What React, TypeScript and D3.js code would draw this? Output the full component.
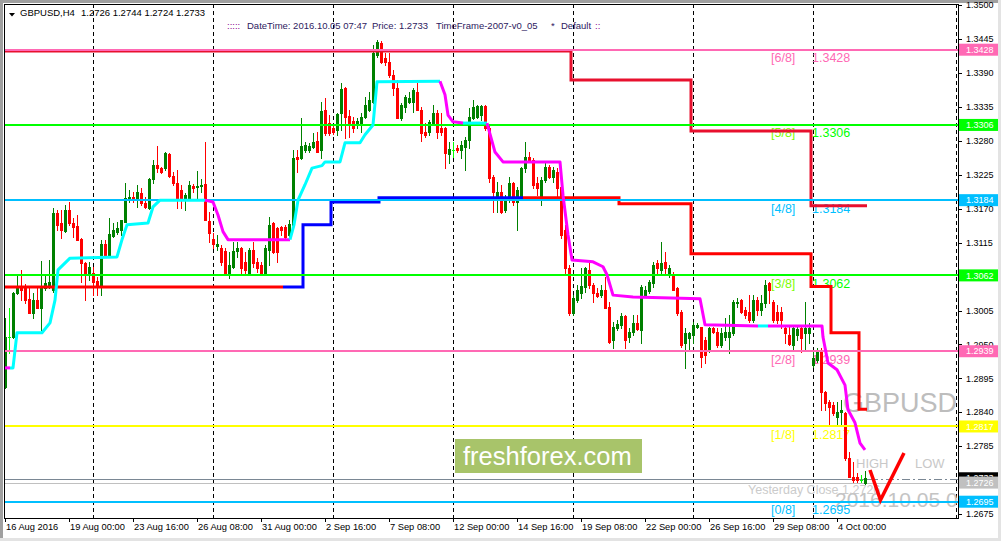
import React from 'react';
import * as d3 from 'd3';

// ---------- DATA ----------
const OPEN = [1.2881,1.2962,1.2962,1.3034,1.3042,1.3042,1.3024,1.3001,1.3022,1.3009,1.3042,1.3047,1.3038,1.3163,1.3147,1.3134,1.3168,1.3147,1.3142,1.3121,1.3082,1.3063,1.3066,1.3053,1.3043,1.3113,1.3095,1.3126,1.3132,1.3136,1.3149,1.3184,1.3189,1.3184,1.3196,1.3179,1.3171,1.3218,1.3241,1.3236,1.3236,1.3259,1.3223,1.3212,1.3201,1.3184,1.3188,1.3207,1.3206,1.3207,1.3210,1.3150,1.3121,1.3110,1.3107,1.3102,1.3066,1.3076,1.3102,1.3107,1.3084,1.3066,1.3103,1.3084,1.3079,1.3066,1.3103,1.3147,1.3139,1.3141,1.3141,1.3128,1.3144,1.3254,1.3252,1.3265,1.3265,1.3270,1.3280,1.3265,1.3330,1.3309,1.3301,1.3298,1.3325,1.3366,1.3321,1.3313,1.3306,1.3306,1.3319,1.3330,1.3343,1.3420,1.3439,1.3415,1.3408,1.3387,1.3366,1.3317,1.3335,1.3343,1.3343,1.3360,1.3330,1.3295,1.3295,1.3309,1.3325,1.3301,1.3301,1.3259,1.3266,1.3269,1.3265,1.3270,1.3282,1.3317,1.3319,1.3322,1.3337,1.3301,1.3222,1.3188,1.3197,1.3168,1.3184,1.3212,1.3181,1.3189,1.3236,1.3254,1.3249,1.3212,1.3188,1.3217,1.3238,1.3222,1.3230,1.3206,1.3136,1.3074,1.3001,1.3022,1.3034,1.3043,1.3071,1.3047,1.3034,1.3030,1.3038,1.3011,1.2957,1.2977,1.2982,1.2996,1.2962,1.2970,1.2985,1.2974,1.3030,1.3037,1.3050,1.3082,1.3071,1.3084,1.3063,1.3063,1.3042,1.3003,1.2952,1.2961,1.2965,1.2978,1.2978,1.2957,1.2941,1.2977,1.2970,1.2949,1.2962,1.2962,1.2969,1.3017,1.3022,1.3006,1.3003,1.2990,1.3022,1.3006,1.3017,1.3050,1.3019,1.3003,1.3003,1.2977,1.2965,1.2949,1.2965,1.2977,1.2969,1.2969,1.2917,1.2925,1.2941,1.2873,1.2857,1.2852,1.2833,1.2841,1.2839,1.2766,1.2735,1.2735,1.2730,1.2726];
const HIGH = [1.2993,1.3009,1.3035,1.3063,1.3071,1.3048,1.3043,1.3034,1.3043,1.3085,1.3063,1.3087,1.3171,1.3168,1.3168,1.3176,1.3181,1.3155,1.3160,1.3123,1.3083,1.3084,1.3076,1.3059,1.3120,1.3120,1.3155,1.3147,1.3149,1.3152,1.3212,1.3201,1.3197,1.3209,1.3204,1.3189,1.3220,1.3249,1.3272,1.3238,1.3262,1.3261,1.3230,1.3233,1.3209,1.3196,1.3215,1.3210,1.3231,1.3218,1.3278,1.3165,1.3131,1.3128,1.3111,1.3107,1.3100,1.3116,1.3116,1.3108,1.3100,1.3107,1.3116,1.3090,1.3084,1.3111,1.3157,1.3149,1.3140,1.3142,1.3144,1.3152,1.3265,1.3265,1.3317,1.3278,1.3277,1.3293,1.3295,1.3343,1.3350,1.3322,1.3304,1.3325,1.3374,1.3367,1.3330,1.3319,1.3317,1.3325,1.3351,1.3360,1.3436,1.3444,1.3442,1.3423,1.3423,1.3395,1.3379,1.3342,1.3355,1.3360,1.3366,1.3374,1.3335,1.3309,1.3314,1.3338,1.3330,1.3325,1.3303,1.3278,1.3278,1.3274,1.3280,1.3287,1.3334,1.3347,1.3338,1.3338,1.3339,1.3306,1.3225,1.3214,1.3209,1.3192,1.3222,1.3214,1.3206,1.3238,1.3278,1.3262,1.3252,1.3222,1.3222,1.3244,1.3241,1.3238,1.3236,1.3209,1.3144,1.3079,1.3030,1.3047,1.3074,1.3076,1.3082,1.3050,1.3042,1.3047,1.3059,1.3019,1.2986,1.2990,1.3001,1.2998,1.2977,1.2998,1.2998,1.3047,1.3045,1.3055,1.3084,1.3087,1.3116,1.3100,1.3079,1.3068,1.3043,1.3006,1.2977,1.2970,1.2986,1.2985,1.2979,1.2962,1.2978,1.2978,1.2977,1.2977,1.2993,1.2998,1.3022,1.3025,1.3023,1.3011,1.3030,1.3030,1.3027,1.3030,1.3055,1.3051,1.3022,1.3014,1.3011,1.2982,1.2978,1.2978,1.2982,1.2979,1.3019,1.2985,1.2938,1.2944,1.2944,1.2874,1.2860,1.2857,1.2857,1.2860,1.2841,1.2776,1.2760,1.2741,1.2738,1.2744];
const LOW = [1.2879,1.2936,1.2961,1.3032,1.3022,1.3017,1.3001,1.2993,1.3009,1.2974,1.3038,1.3042,1.3035,1.3136,1.3123,1.3132,1.3144,1.3124,1.3119,1.3051,1.3022,1.3055,1.3030,1.3030,1.3030,1.3095,1.3093,1.3124,1.3129,1.3128,1.3149,1.3181,1.3181,1.3173,1.3176,1.3171,1.3170,1.3212,1.3230,1.3228,1.3233,1.3222,1.3209,1.3171,1.3171,1.3168,1.3186,1.3197,1.3188,1.3197,1.3152,1.3116,1.3107,1.3103,1.3079,1.3063,1.3058,1.3074,1.3092,1.3066,1.3066,1.3063,1.3076,1.3068,1.3063,1.3063,1.3079,1.3098,1.3084,1.3128,1.3120,1.3124,1.3141,1.3230,1.3251,1.3262,1.3262,1.3269,1.3262,1.3252,1.3290,1.3290,1.3291,1.3290,1.3298,1.3285,1.3287,1.3295,1.3301,1.3295,1.3317,1.3329,1.3342,1.3416,1.3407,1.3403,1.3384,1.3355,1.3317,1.3314,1.3327,1.3342,1.3327,1.3330,1.3280,1.3287,1.3290,1.3306,1.3285,1.3290,1.3236,1.3244,1.3254,1.3262,1.3252,1.3233,1.3269,1.3316,1.3317,1.3314,1.3298,1.3214,1.3165,1.3165,1.3163,1.3165,1.3181,1.3176,1.3136,1.3187,1.3230,1.3246,1.3204,1.3192,1.3176,1.3214,1.3220,1.3214,1.3184,1.3123,1.3066,1.2998,1.2998,1.3019,1.3025,1.3035,1.3042,1.3019,1.3027,1.3027,1.3009,1.2952,1.2944,1.2974,1.2977,1.2944,1.2954,1.2965,1.2974,1.2952,1.3027,1.3034,1.3043,1.3063,1.3066,1.3066,1.3059,1.3038,1.2998,1.2946,1.2912,1.2941,1.2952,1.2977,1.2914,1.2920,1.2938,1.2969,1.2946,1.2946,1.2957,1.2936,1.2965,1.3011,1.3001,1.2993,1.2986,1.2986,1.2998,1.2998,1.3011,1.3017,1.2986,1.2985,1.2977,1.2952,1.2949,1.2941,1.2957,1.2938,1.2941,1.2952,1.2914,1.2922,1.2844,1.2844,1.2819,1.2836,1.2819,1.2819,1.2763,1.2743,1.2727,1.2727,1.2727,1.2724];
const CLOSE = [1.2962,1.2962,1.3034,1.3042,1.3038,1.3022,1.3001,1.3022,1.3009,1.3042,1.3050,1.3051,1.3163,1.3144,1.3136,1.3168,1.3147,1.3141,1.3120,1.3082,1.3063,1.3076,1.3051,1.3043,1.3113,1.3095,1.3129,1.3136,1.3139,1.3152,1.3188,1.3189,1.3184,1.3197,1.3179,1.3173,1.3218,1.3241,1.3236,1.3230,1.3261,1.3223,1.3212,1.3188,1.3188,1.3192,1.3209,1.3204,1.3207,1.3209,1.3152,1.3131,1.3113,1.3113,1.3084,1.3066,1.3079,1.3102,1.3107,1.3074,1.3071,1.3103,1.3082,1.3074,1.3066,1.3107,1.3144,1.3100,1.3100,1.3136,1.3124,1.3145,1.3252,1.3251,1.3272,1.3274,1.3272,1.3278,1.3262,1.3329,1.3293,1.3293,1.3295,1.3324,1.3364,1.3319,1.3309,1.3301,1.3313,1.3319,1.3338,1.3347,1.3423,1.3441,1.3408,1.3408,1.3387,1.3366,1.3317,1.3338,1.3351,1.3350,1.3363,1.3330,1.3293,1.3290,1.3311,1.3325,1.3295,1.3295,1.3261,1.3267,1.3266,1.3265,1.3274,1.3282,1.3319,1.3335,1.3337,1.3337,1.3301,1.3220,1.3197,1.3197,1.3165,1.3184,1.3212,1.3181,1.3201,1.3236,1.3254,1.3249,1.3209,1.3204,1.3217,1.3238,1.3222,1.3233,1.3204,1.3128,1.3074,1.3001,1.3025,1.3038,1.3045,1.3074,1.3047,1.3034,1.3029,1.3038,1.3009,1.2954,1.2978,1.2983,1.2996,1.2957,1.2970,1.2985,1.2975,1.3043,1.3038,1.3051,1.3079,1.3074,1.3082,1.3074,1.3074,1.3038,1.3001,1.2949,1.2969,1.2969,1.2982,1.2982,1.2930,1.2933,1.2977,1.2970,1.2949,1.2969,1.2970,1.2970,1.3019,1.3019,1.3003,1.2998,1.2990,1.3022,1.3006,1.3017,1.3047,1.3038,1.2990,1.2990,1.2990,1.2969,1.2950,1.2977,1.2975,1.2961,1.2977,1.2977,1.2928,1.2941,1.2873,1.2855,1.2849,1.2839,1.2841,1.2844,1.2766,1.2735,1.2730,1.2730,1.2730,1.2733];

const MURREY_LEVELS = [1.2695, 1.2817, 1.2939, 1.3062, 1.3184, 1.3306, 1.3428];
const MURREY_NAMES = ['[0/8]', '[1/8]', '[2/8]', '[3/8]', '[4/8]', '[5/8]', '[6/8]'];

const UPPER_START = [0, 142, 172, 202];
const UPPER_VALUE = [1.3426, 1.3379, 1.3296, 1.3175];
const LOWER_START = [0, 75, 82, 94, 154, 172, 202, 207, 214];
const LOWER_VALUE = [1.3043, 1.3144, 1.3181, 1.3188, 1.3178, 1.3097, 1.3044, 1.2969, 1.2845];
const LOWER_RUNS = [[0, 69, 'down'], [70, 129, 'up'], [130, 215, 'down']] as const;

const TREND_DIR = ['down', 'up', 'down', 'up', 'down', 'up', 'down', 'up', 'down'];
const TREND_BARS = [
  [0, 1.25],
  [1.25, 2, 3, 9.25, 11.25, 12.5, 13.25, 16.25, 28, 29.25, 30.5, 35.75, 37, 38.75, 50],
  [50, 52, 53.25, 54.5, 55.75, 71.25],
  [71.25, 72.25, 73.25, 75, 76.75, 79.25, 80, 83.75, 85, 88.75, 90, 92, 93, 108.75],
  [108.75, 110, 110.75, 112, 114.5],
  [114.5, 120.5],
  [120.5, 122.5, 124.5, 138.75, 139.5, 140.75, 141.75, 147, 149.5, 150.5, 152, 157, 173.75, 175, 188.25],
  [188.25, 190.75],
  [190.75, 204.25, 204.5, 205.75, 208, 210, 210.75, 212.5, 213.75, 215],
];
const TREND_VALUES = [
  [1.2912, 1.2912],
  [1.2912, 1.2912, 1.2969, 1.2969, 1.2985, 1.3022, 1.3071, 1.3090, 1.3092, 1.3120, 1.3144, 1.3147, 1.3173, 1.3184, 1.3184],
  [1.3184, 1.3181, 1.3160, 1.3133, 1.3120, 1.3120],
  [1.3120, 1.3144, 1.3184, 1.3209, 1.3236, 1.3240, 1.3246, 1.3246, 1.3277, 1.3277, 1.3290, 1.3306, 1.3376, 1.3377],
  [1.3377, 1.3355, 1.3322, 1.3311, 1.3309],
  [1.3309, 1.3309],
  [1.3309, 1.3262, 1.3246, 1.3246, 1.3192, 1.3128, 1.3087, 1.3084, 1.3076, 1.3063, 1.3030, 1.3027, 1.3024, 1.2982, 1.2980],
  [1.2980, 1.2980],
  [1.2980, 1.2980, 1.2962, 1.2920, 1.2909, 1.2884, 1.2844, 1.2823, 1.2790, 1.2779],
];

const PRICE_TICKS = [1.3500, 1.3445, 1.3390, 1.3335, 1.3280, 1.3225, 1.3170, 1.3115, 1.3060, 1.3005, 1.2950, 1.2895, 1.2840, 1.2785, 1.2730, 1.2675];
const TIME_BARS = [0, 16, 32, 48, 64, 80, 96, 112, 128, 144, 160, 176, 192, 208];
const TIME_LABELS = ['16 Aug 2016', '19 Aug 00:00', '23 Aug 16:00', '26 Aug 08:00', '31 Aug 00:00', '2 Sep 16:00', '7 Sep 08:00', '12 Sep 00:00', '14 Sep 16:00', '19 Sep 08:00', '22 Sep 00:00', '26 Sep 16:00', '29 Sep 08:00', '4 Oct 00:00'];
const WEEK_BARS = [22, 52, 82, 112, 142, 172, 202];

const CURRENT_PRICE = 1.2733;
const YESTERDAY_CLOSE = 1.2726;

// ---------- STYLE ----------
const W = 1001, H = 541;
const LEFT = 4, TOP = 4, RIGHT = 958, BOTTOM = 518;
const FONT = "'Liberation Sans', Arial, sans-serif";
const LEVEL_COLORS = ['#00BFFF', '#FFFF00', '#FF69B4', '#00FF00', '#00BFFF', '#00FF00', '#FF69B4'];
const LEVEL_NAME_COLORS = ['#00BFFF', '#FFFF00', '#FF69B4', '#7CFC00', '#00BFFF', '#7CFC00', '#FF69B4'];

export default function App() {
  const x = d3.scaleLinear().domain([0, 215]).range([5, 865]);
  const y = d3.scaleLinear().domain([1.2695, 1.3428]).range([501.7, 49.7]);

  const stepPath = (starts: number[], values: number[], from: number, to: number) => {
    const valAt = (i: number) => {
      let v = values[0];
      for (let j = 0; j < starts.length; j++) if (starts[j] <= i) v = values[j];
      return v;
    };
    const pts: [number, number][] = [];
    for (let i = from; i <= to; i++) pts.push([x(i - 0.5), y(valAt(i))]);
    pts.push([x(to + 0.5), y(valAt(to))]);
    return d3.line().curve(d3.curveStepAfter)(pts) || '';
  };

  const trendLine = d3.line<[number, number]>().x(d => x(d[0])).y(d => y(d[1]));

  const candles = OPEN.map((o, i) => {
    const c = CLOSE[i], h = HIGH[i], l = LOW[i];
    const cx = Math.round(x(i));
    const yh = Math.round(y(h)), yl = Math.round(y(l));
    const yo = Math.round(y(o)), yc = Math.round(y(c));
    const doji = Math.abs(o - c) < 0.00005;
    const color = doji ? '#00FF00' : c > o ? '#008000' : '#FF0000';
    const top = Math.min(yo, yc), bot = Math.max(yo, yc);
    return (
      <g key={i}>
        <rect x={cx} y={yh} width={1} height={Math.max(1, yl - yh + 1)} fill={color} />
        <rect x={cx - 1} y={top} width={3} height={Math.max(1, bot - top + (doji ? 0 : 1))} fill={color} />
      </g>
    );
  });

  const axisBox = (v: number, bg: string, key: string, fg = '#FFFFFF') => (
    <g key={key}>
      <rect x={959} y={y(v) - 6} width={39} height={12} fill={bg} />
      <text x={966} y={y(v)} dy="0.35em" fontSize={9} fill={fg} fontFamily={FONT}>{v.toFixed(4)}</text>
    </g>
  );

  return (
    <svg width={W} height={H} style={{ position: 'absolute', left: 0, top: 0, background: '#fff' }}>
      <defs>
        <clipPath id="plot"><rect x={LEFT + 1} y={TOP + 1} width={RIGHT - LEFT - 1} height={BOTTOM - TOP - 1} /></clipPath>
      </defs>
      {/* window frame */}
      <rect x={0} y={0} width={W} height={H} fill="#FFFFFF" />
      <rect x={0} y={0} width={W} height={3} fill="#A0A0A0" />
      <rect x={0} y={0} width={3} height={H} fill="#A0A0A0" />
      <rect x={0} y={538} width={W} height={3} fill="#E3E3E3" />
      <rect x={998} y={0} width={3} height={H} fill="#E3E3E3" />

      <g clipPath="url(#plot)">
        {/* weekly separators */}
        {WEEK_BARS.map(b => (
          <line key={b} x1={Math.round(x(b)) + 0.5} x2={Math.round(x(b)) + 0.5} y1={TOP} y2={BOTTOM} stroke="#000" strokeDasharray="4,3" />
        ))}
        <line x1={956.5} x2={956.5} y1={TOP} y2={BOTTOM} stroke="#000" strokeDasharray="4,3" />

        {/* watermark texts */}
        <text x={843} y={412} fontSize={27} fill="#BDBDBD" fontFamily={FONT}>GBPUSD</text>
        <text x={856} y={468} fontSize={13} fill="#C8C8C8" fontFamily={FONT}>HIGH</text>
        <text x={915} y={468} fontSize={13} fill="#C8C8C8" fontFamily={FONT}>LOW</text>
        <text x={748} y={494} fontSize={12.5} fill="#CBCBCB" fontFamily={FONT}>Yesterday Close {YESTERDAY_CLOSE.toFixed(4)}</text>
        <text x={835} y={507} fontSize={21} fill="#C4C4C4" fontFamily={FONT}>2016.10.05 07:47</text>

        {/* price lines */}
        <rect x={5} y={Math.round(y(CURRENT_PRICE)) + 1} width={865} height={1} fill="#7A8794" />
        <line x1={870} x2={RIGHT} y1={Math.round(y(CURRENT_PRICE)) + 1.5} y2={Math.round(y(CURRENT_PRICE)) + 1.5} stroke="#7A8794" strokeDasharray="8,3,2,3" />
        <rect x={5} y={Math.round(y(YESTERDAY_CLOSE))} width={RIGHT - 5} height={1} fill="#C0C0C0" />

        {/* murrey level labels */}
        {MURREY_LEVELS.map((v, k) => (
          <g key={v}>
            <text x={771} y={y(v) + 12.5} fontSize={12.5} fill={LEVEL_NAME_COLORS[k]} fontFamily={FONT}>{MURREY_NAMES[k]}</text>
            <text x={812} y={y(v) + 12.5} fontSize={12.5} fill={LEVEL_COLORS[k]} fontFamily={FONT}>{v.toFixed(4)}</text>
          </g>
        ))}

        {/* candles */}
        <g shapeRendering="crispEdges">{candles}</g>

        {/* channel step lines */}
        <path d={stepPath(UPPER_START, UPPER_VALUE, 0, 215)} fill="none" stroke="#E8102E" strokeWidth={3} />
        {LOWER_RUNS.map(([a, b, dir]) => (
          <path key={a} d={stepPath(LOWER_START, LOWER_VALUE, a, b)} fill="none" stroke={dir === 'up' ? '#0000FF' : '#FF0000'} strokeWidth={3} />
        ))}

        {/* murrey level lines */}
        {MURREY_LEVELS.map((v, k) => (
          <rect key={v} x={5} y={Math.round(y(v)) - 1} width={RIGHT - 5} height={2} fill={LEVEL_COLORS[k]} />
        ))}

        {/* trend line */}
        {TREND_BARS.map((bars, k) => (
          <path key={k} d={trendLine(bars.map((b, j) => [b, TREND_VALUES[k][j]] as [number, number])) || ''}
            fill="none" stroke={TREND_DIR[k] === 'up' ? '#00FFFF' : '#FF00FF'} strokeWidth={3} strokeLinejoin="round" />
        ))}

        {/* red check mark */}
        <polyline points="870,470 880.5,500 904,453" fill="none" stroke="#FF0000" strokeWidth={3.5} />

        {/* freshforex badge */}
        <rect x={455} y={439} width={187} height={34} fill="#A8C46A" />
        <text x={463} y={465} fontSize={25.5} fill="#FFFFFF" fontFamily={FONT}>freshforex.com</text>
      </g>

      {/* header */}
      <path d="M9,13 L15,13 L12,16.5 Z" fill="#000" />
      <text x={20} y={16} fontSize={9.5} fill="#000" fontFamily={FONT}>GBPUSD,H4</text>
      <text x={81} y={16} fontSize={9.5} fill="#000" fontFamily={FONT}>{`${OPEN[215].toFixed(4)} ${HIGH[215].toFixed(4)} ${LOW[215].toFixed(4)} ${CLOSE[215].toFixed(4)}`}</text>
      <text x={227} y={29} fontSize={9.5} fill="#8B008B" fontFamily={FONT}>:::::</text>
      <text x={247} y={29} fontSize={9.5} fill="#2E1A5E" fontFamily={FONT}>DateTime: 2016.10.05 07:47</text>
      <text x={372} y={29} fontSize={9.5} fill="#2E1A5E" fontFamily={FONT}>Price: {CURRENT_PRICE.toFixed(4)}</text>
      <text x={436} y={29} fontSize={9.5} fill="#2E1A5E" fontFamily={FONT}>TimeFrame-2007-v0_05</text>
      <text x={551} y={29} fontSize={9.5} fill="#2E1A5E" fontFamily={FONT}>*</text>
      <text x={561} y={29} fontSize={9.5} fill="#2E1A5E" fontFamily={FONT}>Default</text>
      <text x={595} y={29} fontSize={9.5} fill="#8B008B" fontFamily={FONT}>::</text>

      {/* plot border */}
      <rect x={LEFT + 0.5} y={TOP + 0.5} width={RIGHT - LEFT} height={BOTTOM - TOP} fill="none" stroke="#000" />

      {/* price axis */}
      {PRICE_TICKS.map(p => (
        <g key={p}>
          <line x1={RIGHT} x2={RIGHT + 4} y1={Math.round(y(p)) + 0.5} y2={Math.round(y(p)) + 0.5} stroke="#000" />
          <text x={966} y={y(p)} dy="0.35em" fontSize={9} fill="#000" fontFamily={FONT}>{p.toFixed(4)}</text>
        </g>
      ))}
      {MURREY_LEVELS.map((v, k) => axisBox(v, LEVEL_COLORS[k], 'm' + k))}
      {axisBox(CURRENT_PRICE, '#000000', 'cur')}
      {axisBox(YESTERDAY_CLOSE, '#C0C0C0', 'yc')}

      {/* time axis */}
      {TIME_BARS.map((b, k) => (
        <g key={b}>
          <line x1={Math.round(x(b)) + 0.5} x2={Math.round(x(b)) + 0.5} y1={BOTTOM} y2={BOTTOM + 4} stroke="#000" />
          <text x={Math.round(x(b)) + 1} y={530} fontSize={9.3} fill="#000" fontFamily={FONT}>{TIME_LABELS[k]}</text>
        </g>
      ))}
    </svg>
  );
}
